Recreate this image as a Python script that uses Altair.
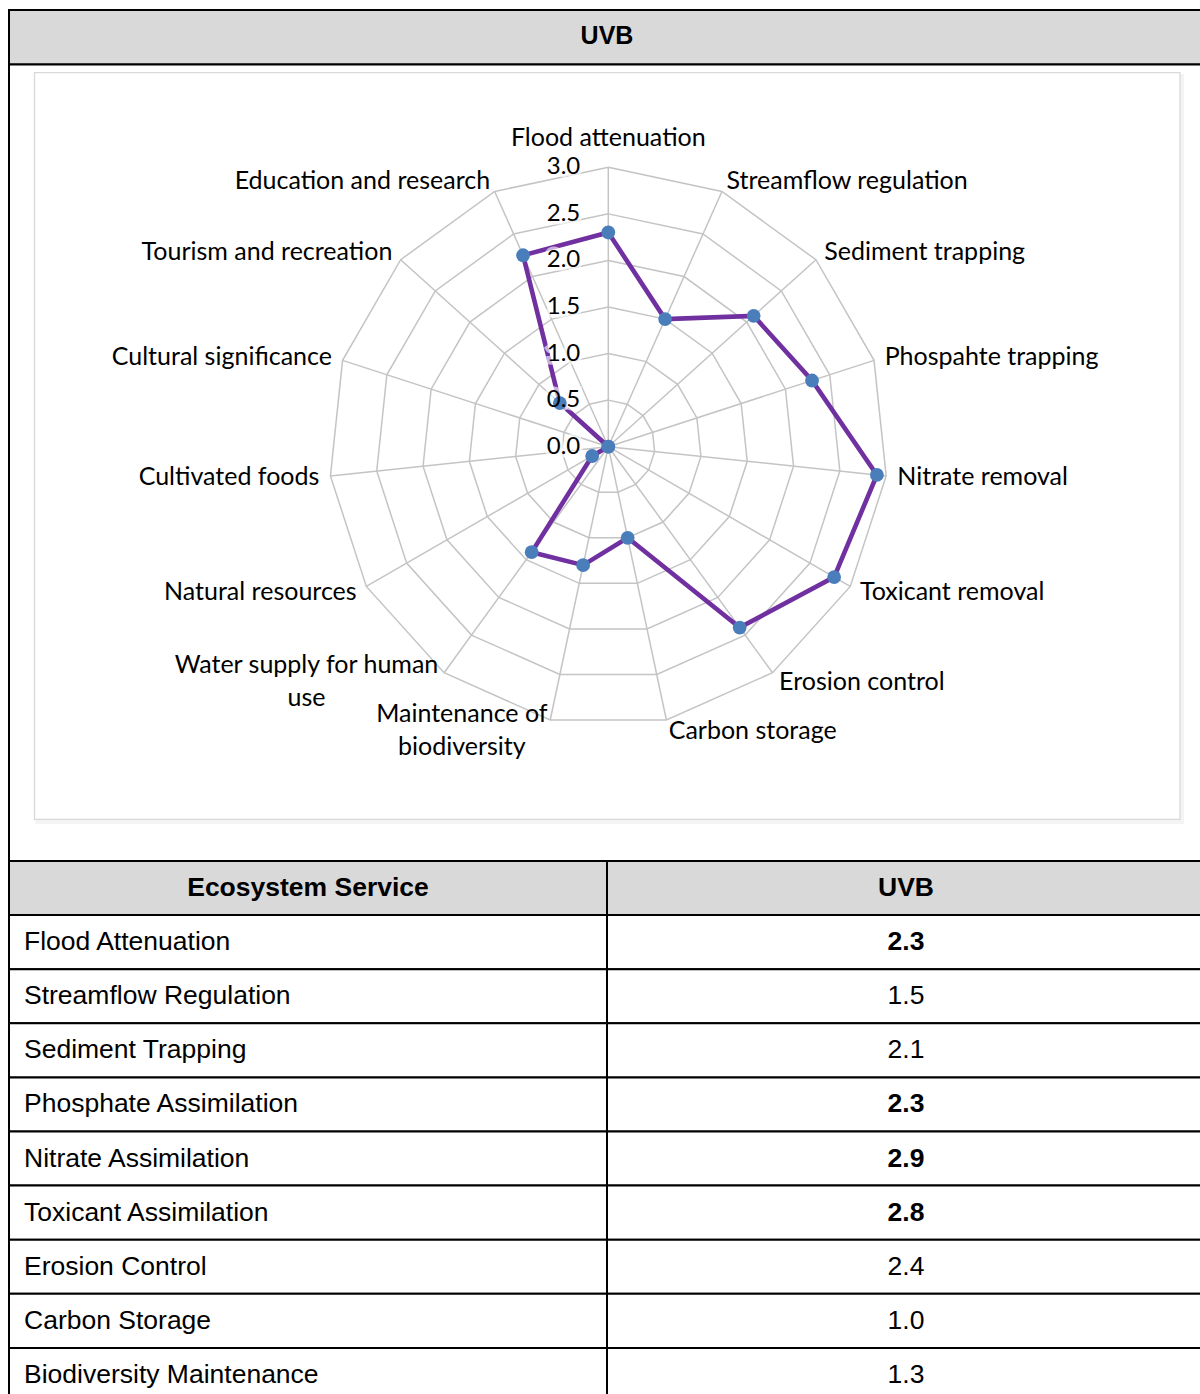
import altair as alt
import pandas as pd

# ---------------- data ----------------
header_title = "UVB"

radar_labels = [
    "Flood attenuation", "Streamflow regulation", "Sediment trapping",
    "Phospahte trapping", "Nitrate removal", "Toxicant removal",
    "Erosion control", "Carbon storage", "Maintenance of\nbiodiversity",
    "Water supply for human\nuse", "Natural resources", "Cultivated foods",
    "Cultural significance", "Tourism and recreation", "Education and research",
]
radar_values = [2.3, 1.5, 2.1, 2.3, 2.9, 2.8, 2.4, 1.0, 1.3, 1.4, 0.2, 0.0, 0.0, 0.7, 2.25]
radar_ticks = [0.0, 0.5, 1.0, 1.5, 2.0, 2.5, 3.0]

table_columns = ["Ecosystem Service", "UVB"]
table_services = [
    "Flood Attenuation", "Streamflow Regulation", "Sediment Trapping",
    "Phosphate Assimilation", "Nitrate Assimilation", "Toxicant Assimilation",
    "Erosion Control", "Carbon Storage", "Biodiversity Maintenance",
]
table_scores = ["2.3", "1.5", "2.1", "2.3", "2.9", "2.8", "2.4", "1.0", "1.3"]
table_bold = [True, False, False, True, True, True, False, False, False]

# ---------------- layout / style ----------------
W, H = 1191, 1384
UNIT = 279.4 / 3.0
CX, CY = 599.3, 436.7
N = len(radar_labels)
RMAX = max(radar_ticks)
LABEL_FONT = "Lato"
TABLE_FONT = "Liberation Sans"
GRID = "#c4c4c4"
COL_W = 598

xs = alt.Scale(domain=[-CX / UNIT, (W - CX) / UNIT], nice=False, zero=False)
ys = alt.Scale(domain=[-(H - CY) / UNIT, CY / UNIT], nice=False, zero=False)
ANG = f"2*PI*datum.idx/{N}"


def X(field):
    return alt.X(f"{field}:Q", scale=xs, axis=None)


def Y(field):
    return alt.Y(f"{field}:Q", scale=ys, axis=None)


one = pd.DataFrame({"a": [0]})

# frames
header_box = alt.Chart(one).mark_rect(fill="#d9d9d9", stroke="black", strokeWidth=2).encode(
    x=alt.value(0), x2=alt.value(2 * COL_W), y=alt.value(0), y2=alt.value(54.5))
chart_box = alt.Chart(one).mark_rect(fill="white", stroke="black", strokeWidth=2).encode(
    x=alt.value(0), x2=alt.value(2 * COL_W), y=alt.value(54.5), y2=alt.value(851))
inner_shadow = alt.Chart(one).mark_rect(fill="#f4f4f4", stroke="#f4f4f4", strokeWidth=2).encode(
    x=alt.value(27.5), x2=alt.value(1174), y=alt.value(65), y2=alt.value(813))
inner_box = alt.Chart(one).mark_rect(fill="white", stroke="#d9d9d9", strokeWidth=1.3).encode(
    x=alt.value(25.5), x2=alt.value(1171), y=alt.value(62.7), y2=alt.value(809.3))
header_text = alt.Chart(one).mark_text(
    text=header_title, font=TABLE_FONT, fontSize=25, fontWeight="bold", color="black",
    align="center", baseline="middle").encode(x=alt.value(598), y=alt.value(25.6))

# radar grid
ring_df = pd.DataFrame([{"level": lv, "idx": i} for lv in radar_ticks if lv > 0 for i in range(N)])
rings = alt.Chart(ring_df).transform_calculate(
    px=f"datum.level*sin({ANG})", py=f"datum.level*cos({ANG})"
).mark_line(interpolate="linear-closed", color=GRID, strokeWidth=1.5).encode(
    x=X("px"), y=Y("py"), detail="level:N", order="idx:Q")

spoke_df = pd.DataFrame({"idx": list(range(N))})
spokes = alt.Chart(spoke_df).transform_calculate(
    x0="0", y0="0", px=f"{RMAX}*sin({ANG})", py=f"{RMAX}*cos({ANG})"
).mark_rule(color=GRID, strokeWidth=1.5).encode(
    x=X("x0"), y=Y("y0"), x2="px:Q", y2="py:Q")

radar_df = pd.DataFrame({"idx": list(range(N)), "label": radar_labels, "value": radar_values})
radar_base = alt.Chart(radar_df).transform_calculate(
    px=f"datum.value*sin({ANG})", py=f"datum.value*cos({ANG})")
series_line = radar_base.mark_line(interpolate="linear-closed", color="#7030a0", strokeWidth=4.6).encode(
    x=X("px"), y=Y("py"), order="idx:Q")
series_pts = radar_base.mark_circle(size=190, color="#4a7ebb", opacity=1).encode(
    x=X("px"), y=Y("py"))

# axis tick labels
tick_df = pd.DataFrame({"tick": radar_ticks})
tick_base = alt.Chart(tick_df).transform_calculate(x0="0")
tick_halo = tick_base.mark_text(
    font=LABEL_FONT, fontSize=24, align="right", baseline="middle", dx=-28,
    fill="white", stroke="white", strokeWidth=7, strokeOpacity=0.65, fillOpacity=0.6).encode(
    x=X("x0"), y=Y("tick"), text=alt.Text("tick:Q", format=".1f"))
tick_text = tick_base.mark_text(
    font=LABEL_FONT, fontSize=24, align="right", baseline="middle", dx=-28, color="black").encode(
    x=X("x0"), y=Y("tick"), text=alt.Text("tick:Q", format=".1f"))

# category labels
lab_base = alt.Chart(radar_df).transform_calculate(
    lx=f"{RMAX + 0.12}*sin({ANG})", ly=f"{RMAX + 0.12}*cos({ANG})")


def lab(filt, **kw):
    return lab_base.transform_filter(filt).mark_text(
        font=LABEL_FONT, fontSize=25, color="black", baseline="middle",
        lineBreak="\n", lineHeight=33, **kw).encode(x=X("lx"), y=Y("ly"), text="label:N")


lab_right = lab("datum.idx >= 1 && datum.idx <= 7", align="left")
lab_left = lab("datum.idx >= 10", align="right")
lab_top = lab("datum.idx == 0", align="center", dy=-18)
lab_b8 = lab("datum.idx == 8", align="center", dx=-86, dy=-16.5)
lab_b9 = lab("datum.idx == 9", align="center", dx=-131, dy=-16.5)

# table
row_keys = ["__header__"] + table_services
cells = []
for c in table_columns:
    cells.append({"row": "__header__", "col": c, "txt": c, "hdr": True, "bold": True})
for s, v, b in zip(table_services, table_scores, table_bold):
    cells.append({"row": s, "col": table_columns[0], "txt": s, "hdr": False, "bold": False})
    cells.append({"row": s, "col": table_columns[1], "txt": v, "hdr": False, "bold": b})
table_df = pd.DataFrame(cells)

ROW_H = 54.1
yb = alt.Scale(domain=row_keys, range=[851, 851 + ROW_H * len(row_keys)], paddingInner=0, paddingOuter=0)
xb = alt.Scale(domain=table_columns, range=[0, 2 * COL_W], paddingInner=0, paddingOuter=0)
tbl = alt.Chart(table_df)
table_rects = tbl.mark_rect(stroke="black", strokeWidth=2).encode(
    x=alt.X("col:N", scale=xb, axis=None, sort=None),
    y=alt.Y("row:N", scale=yb, axis=None, sort=None),
    fill=alt.condition("datum.hdr", alt.value("#d9d9d9"), alt.value("white")))


def ttext(filt, weight, align, dx=0):
    return tbl.transform_filter(filt).mark_text(
        font=TABLE_FONT, fontSize=26.5, fontWeight=weight, align=align, baseline="middle",
        dx=dx, color="black").encode(
        x=alt.X("col:N", scale=xb, axis=None, sort=None),
        y=alt.Y("row:N", scale=yb, axis=None, sort=None),
        text="txt:N")


t_head = ttext("datum.hdr", "bold", "center")
t_names = ttext(f"!datum.hdr && datum.col == '{table_columns[0]}'", "normal", "left", dx=15 - COL_W / 2)
t_vals = ttext(f"!datum.hdr && datum.col == '{table_columns[1]}' && !datum.bold", "normal", "center")
t_valsb = ttext(f"!datum.hdr && datum.col == '{table_columns[1]}' && datum.bold", "bold", "center")

chart = alt.layer(
    header_box, chart_box, inner_shadow, inner_box, header_text,
    rings, spokes, series_line, tick_halo, series_pts,
    lab_right, lab_left, lab_top, lab_b8, lab_b9, tick_text,
    table_rects, t_head, t_names, t_vals, t_valsb,
).resolve_scale(x="independent", y="independent").properties(
    width=W, height=H,
    padding={"left": 9, "top": 10, "right": 0, "bottom": 0},
    autosize=alt.AutoSizeParams(type="none"),
).configure_view(stroke=None)

chart.save("out.html", embed_options={"renderer": "svg", "actions": False})
